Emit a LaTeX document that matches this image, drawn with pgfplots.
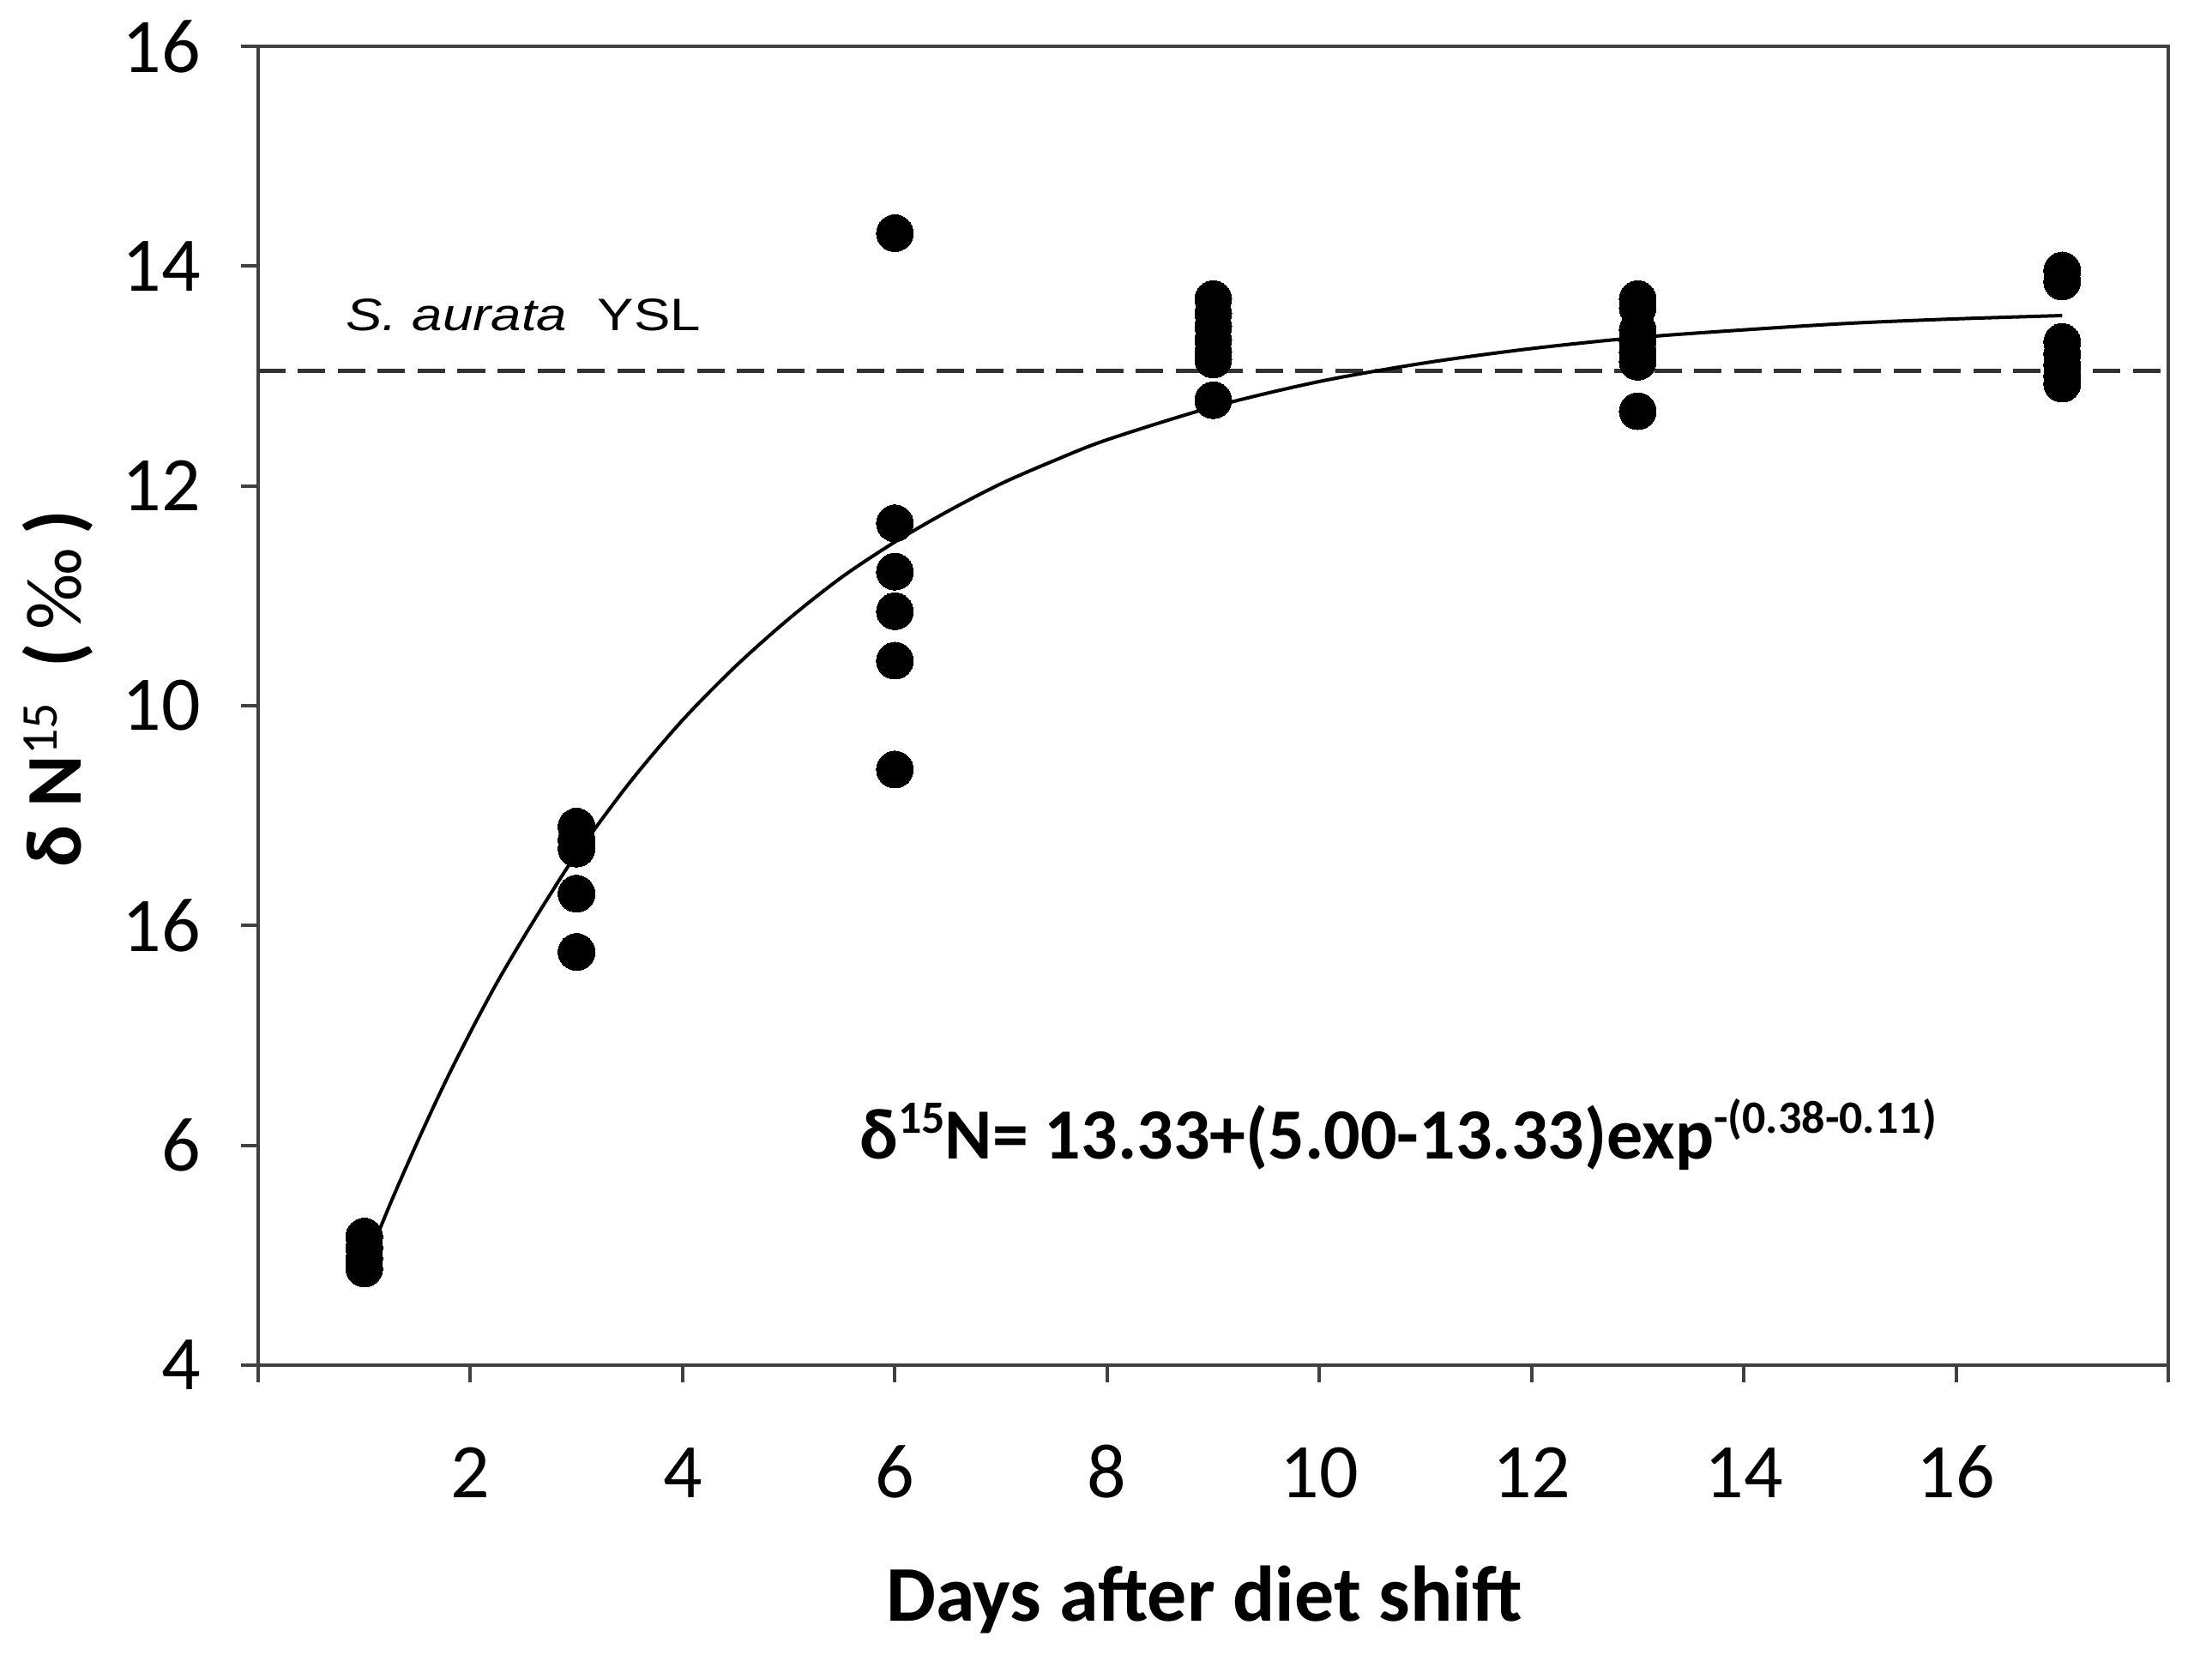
\documentclass[border=0pt]{standalone}
\usepackage{pgfplots}
\pgfplotsset{compat=1.18}
\usepackage{fontspec}
\setmainfont{Carlito}
\newfontfamily\arialf{Liberation Sans}
\begin{document}
\begin{tikzpicture}
\useasboundingbox (-60.2pt,-70.2pt) rectangle (455.6pt,318.4pt);
\begin{axis}[
  at={(0,0)}, anchor=south west,
  scale only axis, width=445.4pt, height=307.6pt,
  xmin=0, xmax=18, ymin=4, ymax=16,
  xtick={0,2,...,18},
  xticklabels={,2,4,6,8,10,12,14,16,},
  ytick={4,6,...,16},
  yticklabels={4,6,16,10,12,14,16},
  tick align=outside, xtick pos=bottom, ytick pos=left,
  major tick length=4pt,
  axis line style={black!75, line width=0.8pt},
  tick style={black!75, line width=0.8pt},
  /pgf/number format/assume math mode=true,
  ticklabel style={font=\fontsize{18}{20}\selectfont},
  xticklabel style={anchor=base, inner sep=0pt, yshift=-26.9pt},
  yticklabel style={anchor=east, inner sep=0pt, xshift=-9.2pt},
  xlabel={Days after diet shift},
  xlabel style={at={([yshift=-59.7pt]axis description cs:0.4953,0)}, anchor=base, inner sep=0pt, font=\fontsize{18.4}{20}\selectfont\bfseries},
  ylabel={δ N\raisebox{5.7pt}{\mdseries\fontsize{12}{14}\selectfont 15}\ \ (\,\mdseries ‰\bfseries\,)},
  ylabel style={at={([xshift=-41.2pt]axis description cs:0,0.513)}, rotate=0, anchor=base, inner sep=0pt, font=\fontsize{18.4}{20}\selectfont\bfseries},
  clip=false,
]
% reference line
\addplot[black!80, line width=1pt, dash pattern=on 6.4pt off 2.9pt] coordinates {(0,13.05) (18,13.05)};
% fitted curve
\addplot[black, line width=0.8pt, smooth] coordinates {
(1.0,4.89) (1.25,5.48) (1.5,6.03) (1.75,6.55) (2.0,7.03) (2.25,7.48) (2.5,7.89)
(2.75,8.28) (3.0,8.65) (3.5,9.30) (4.0,9.87) (4.5,10.36) (5.0,10.79) (5.5,11.17)
(6.0,11.49) (6.5,11.77) (7.0,12.02) (7.5,12.23) (8.0,12.42) (9.0,12.72) (10,12.95)
(11,13.12) (12,13.25) (13,13.35) (14,13.42) (15,13.48) (16,13.52) (17,13.55)};
% observations
\addplot[only marks, mark=*, mark size=4.3pt, mark options={fill=black, draw=black, line width=0pt}] coordinates {
(1,5.17) (1,5.07) (1,4.97) (1,4.88)
(3,8.90) (3,8.78) (3,8.70) (3,8.29) (3,7.76)
(6,14.30) (6,11.66) (6,11.22) (6,10.86) (6,10.41) (6,9.42)
(9,13.70) (9,13.57) (9,13.45) (9,13.33) (9,13.22) (9,13.15) (9,12.78)
(13,13.70) (13,13.62) (13,13.42) (13,13.32) (13,13.22) (13,13.13) (13,12.68)
(17,13.96) (17,13.86) (17,13.31) (17,13.20) (17,13.10) (17,13.00) (17,12.93)};
\node[anchor=base west, inner sep=0pt, xscale=1.2, font=\arialf\fontsize{10.6}{12}\selectfont] at (axis cs:0.817,13.41) {\itshape S. aurata\upshape\ \ YSL};
\node[anchor=base west, inner sep=0pt, font=\fontsize{16.8}{18}\selectfont\bfseries] at (axis cs:5.66,5.873) {δ\raisebox{6pt}{\fontsize{10.8}{12}\selectfont 15}N= 13.33+(5.00-13.33)exp\raisebox{6pt}{\fontsize{10.8}{12}\selectfont -(0.38-0.11)}};
\end{axis}
\end{tikzpicture}
\end{document}
